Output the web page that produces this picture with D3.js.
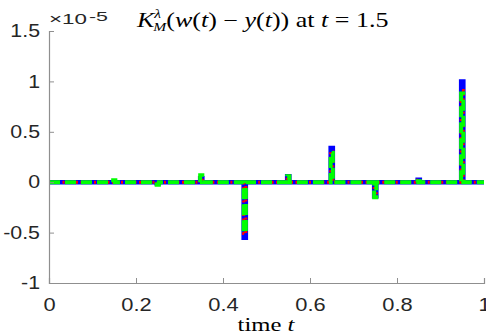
<!DOCTYPE html>
<html>
<head>
<meta charset="utf-8">
<style>
  body { margin: 0; background: #fff; }
  svg { display: block; }
  .tick text { font-family: "Liberation Sans", Arial, sans-serif; }
  .serif { font-family: "Liberation Serif", "DejaVu Serif", serif; }
</style>
</head>
<body>
<script src="https://cdn.jsdelivr.net/npm/d3@7"></script>
<script>

// spike centres on the time axis, one value per spike per series (x 1e-5)
var spikeTimes = [0.15, 0.25, 0.35, 0.45, 0.55, 0.65, 0.75, 0.85, 0.95];
var blueVals  = [0, -0.01, 0.04, -0.55, 0.06, 0.34, -0.14, 0.025, 1.0];
var redVals   = [0, -0.01, 0.05, -0.51, 0.06, 0.30, -0.14, 0.02, 0.91];
var greenVals = [0.02, -0.025, 0.07, -0.50, 0.06, 0.29, -0.15, 0.01, 0.88];
var halfWidth = 0.0025;

var xTicks = [0, 0.2, 0.4, 0.6, 0.8, 1];
var yTicks = [-1, -0.5, 0, 0.5, 1, 1.5];

var width = 486,
    height = 335,
    margin = {left: 49, right: 2, top: 31, bottom: 52};

var axisColor = '#8f8f8f',
    labelColor = '#262626';

var svg = d3.select('body').append('svg')
    .attr('width', width)
    .attr('height', height);

var x = d3.scaleLinear().domain([0, 1]).range([margin.left, width - margin.right]);
var y = d3.scaleLinear().domain([-1, 1.5]).range([height - margin.bottom, margin.top]);

// step series: flat at zero with narrow rectangular pulses
function stepPoints(vals) {
    var pts = [[0, 0]];
    spikeTimes.forEach(function(t, i) {
        pts.push([t - halfWidth, 0]);
        pts.push([t - halfWidth, vals[i]]);
        pts.push([t + halfWidth, vals[i]]);
        pts.push([t + halfWidth, 0]);
    });
    pts.push([1, 0]);
    return pts;
}

var line = d3.line()
    .x(function(d) { return x(d[0]); })
    .y(function(d) { return y(d[1]); });

var series = [
    {vals: blueVals,  color: '#0000ff', w: 4.5, dash: null},
    {vals: redVals,   color: '#ff0000', w: 3,   dash: '2,2.5'},
    {vals: greenVals, color: '#00ff00', w: 4,   dash: '11,5'}
];

series.forEach(function(s) {
    svg.append('path')
        .attr('d', line(stepPoints(s.vals)))
        .attr('fill', 'none')
        .attr('stroke', s.color)
        .attr('stroke-width', s.w)
        .attr('stroke-linejoin', 'miter')
        .attr('stroke-dasharray', s.dash);
});

// axes
var xAxis = svg.append('g')
    .attr('transform', 'translate(0,' + y(-1) + ')')
    .call(d3.axisBottom(x).tickValues(xTicks).tickSize(-5).tickPadding(16)
        .tickFormat(function(d) { return d; }));

var yAxis = svg.append('g')
    .attr('transform', 'translate(' + x(0) + ',0)')
    .call(d3.axisLeft(y).tickValues(yTicks).tickSize(-5).tickPadding(9)
        .tickFormat(function(d) { return d; }));

[xAxis, yAxis].forEach(function(g) {
    g.select('.domain').attr('stroke', axisColor).attr('stroke-width', 1.2);
    g.selectAll('.tick line').attr('stroke', axisColor);
    g.selectAll('.tick text')
        .attr('fill', labelColor)
        .style('font-size', '17.5px');
});
xAxis.selectAll('.tick text').attr('dy', '0.71em');

// widen tick labels a little, the source is horizontally stretched
yAxis.selectAll('.tick text')
    .attr('transform', 'translate(-9,0) scale(1.22,1) translate(9,0)');
xAxis.selectAll('.tick text').attr('transform', 'scale(1.25,1)');

// exponent label, forced to the stretched width of the source
svg.append('text')
    .attr('x', 49)
    .attr('y', 24)
    .attr('textLength', 38)
    .attr('lengthAdjust', 'spacingAndGlyphs')
    .attr('fill', labelColor)
    .style('font-family', '"Liberation Sans", Arial, sans-serif')
    .style('font-size', '14px')
    .text('\u00d710');
svg.append('text')
    .attr('x', 89)
    .attr('y', 20.5)
    .attr('textLength', 19)
    .attr('lengthAdjust', 'spacingAndGlyphs')
    .attr('fill', labelColor)
    .style('font-family', '"Liberation Sans", Arial, sans-serif')
    .style('font-size', '13px')
    .text('-5');

// title
var title = svg.append('g')
    .attr('transform', 'translate(137,27) scale(1.3,1)')
    .append('text')
    .attr('class', 'serif')
    .attr('fill', '#000')
    .style('font-size', '20px');
title.append('tspan').style('font-style', 'italic').text('K');
title.append('tspan').attr('dy', -9).style('font-size', '12px').style('font-style', 'italic').text('\u03bb');
title.append('tspan').attr('dx', -6).attr('dy', 13).style('font-size', '12px').style('font-style', 'italic').text('M');
title.append('tspan').attr('dy', -4).text('(');
title.append('tspan').style('font-style', 'italic').text('w');
title.append('tspan').text('(');
title.append('tspan').style('font-style', 'italic').text('t');
title.append('tspan').text(') \u2212 ');
title.append('tspan').style('font-style', 'italic').text('y');
title.append('tspan').text('(');
title.append('tspan').style('font-style', 'italic').text('t');
title.append('tspan').text(')) at ');
title.append('tspan').style('font-style', 'italic').text('t');
title.append('tspan').text(' = 1.5');

// x label
var xlab = svg.append('g')
    .attr('transform', 'translate(266,331) scale(1.3,1)')
    .append('text')
    .attr('class', 'serif')
    .attr('text-anchor', 'middle')
    .attr('fill', '#000')
    .style('font-size', '19px');
xlab.append('tspan').text('time ');
xlab.append('tspan').style('font-style', 'italic').text('t');

</script>
</body>
</html>
